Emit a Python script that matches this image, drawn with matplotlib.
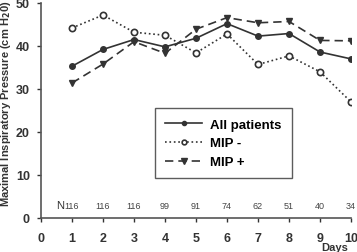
import matplotlib
matplotlib.use("Agg")
import matplotlib.pyplot as plt

plt.rcParams["font.family"] = ["Liberation Sans", "DejaVu Sans"]

# Data
days = [1, 2, 3, 4, 5, 6, 7, 8, 9, 10]
all_patients = [35.3, 39.2, 41.5, 39.8, 41.8, 45.2, 42.3, 42.9, 38.6, 37.0]
mip_minus = [44.2, 47.2, 43.2, 42.5, 38.4, 42.8, 35.7, 37.7, 34.0, 27.0]
mip_plus = [31.4, 35.8, 41.0, 38.3, 43.9, 46.6, 45.4, 45.7, 41.3, 41.2]
n_counts = ["116", "116", "116", "99", "91", "74", "62", "51", "40", "34"]

fig = plt.figure(figsize=(3.57, 2.53), dpi=100)
ax = fig.add_axes([41 / 357, 1 - 219 / 253, 310 / 357, 215 / 253])

ax.plot(days, all_patients, "-", color="#333333", lw=1.2, marker="o",
        ms=4, mfc="#333333", label="All patients")
ax.plot(days, mip_minus, ":", color="#333333", lw=1.2, marker="o",
        ms=4.5, mfc="white", mec="#333333", mew=1.2, label="MIP -")
ax.plot(days, mip_plus, "--", color="#333333", lw=1.2, marker="v",
        ms=5, mfc="#333333", dashes=(5, 3), label="MIP +")

for d, n in zip(days, n_counts):
    ax.text(d, 1.8, n, ha="center", va="bottom", fontsize=6.5, color="#444444")
ax.text(0.74, 1.8, "N", ha="right", va="bottom", fontsize=8, color="#333333")

ax.set_xlim(0, 10)
ax.set_ylim(0, 50)
ax.set_xticks(range(0, 11))
ax.set_yticks(range(0, 51, 10))
ax.tick_params(labelsize=9, length=3, width=1, colors="#333333")
ax.tick_params(axis="x", pad=7)
ax.tick_params(axis="y", pad=5)
for lab in ax.get_xticklabels() + ax.get_yticklabels():
    lab.set_fontweight("bold")
for s in ["top", "right"]:
    ax.spines[s].set_visible(False)
for s in ["left", "bottom"]:
    ax.spines[s].set_color("#555555")
    ax.spines[s].set_linewidth(1.2)

fig.text(6 / 357, 1 - 207 / 253, "Maximal Inspiratory Pressure (cm H$_\\mathbf{2}$0)",
         rotation=90, fontsize=8, fontweight="bold", color="#333333",
         ha="center", va="bottom")
fig.text(321 / 357, 1 - 248 / 253, "Days", fontsize=8, fontweight="bold",
         color="#333333", ha="left", va="center")

leg = ax.legend(loc="upper left", bbox_to_anchor=(0.348, 0.54),
                frameon=True, fancybox=False, edgecolor="#333333",
                prop={"weight": "bold", "size": 9.5}, handlelength=2.8,
                markerscale=0.75, borderpad=0.75, labelspacing=0.5,
                handletextpad=0.6)
leg.get_frame().set_linewidth(1.0)

fig.savefig("out.png", dpi=100)
